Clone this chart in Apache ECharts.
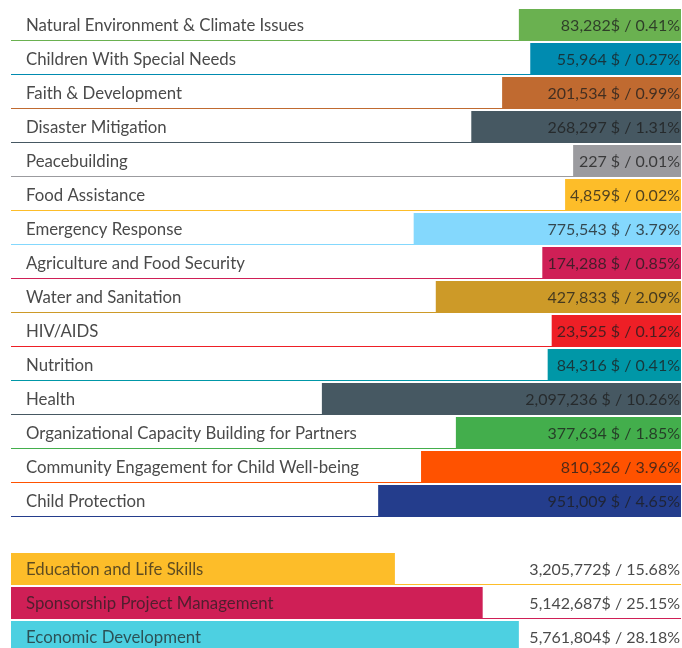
<!DOCTYPE html>
<html><head><meta charset="utf-8">
<style>html,body{margin:0;padding:0;background:#fff;overflow:hidden}#c{width:682px;height:680px}</style>
<script src="https://cdn.jsdelivr.net/npm/echarts@6/dist/echarts.min.js"></script>
</head><body><div id="c"></div>
<script>
const topCategories = [
  'Natural Environment & Climate Issues', 'Children With Special Needs', 'Faith & Development',
  'Disaster Mitigation', 'Peacebuilding', 'Food Assistance', 'Emergency Response',
  'Agriculture and Food Security', 'Water and Sanitation', 'HIV/AIDS', 'Nutrition', 'Health',
  'Organizational Capacity Building for Partners', 'Community Engagement for Child Well-being',
  'Child Protection'
];
const topValueLabels = [
  '83,282$ / 0.41%', '55,964 $ / 0.27%', '201,534 $ / 0.99%', '268,297 $ / 1.31%', '227 $ / 0.01%',
  '4,859$ / 0.02%', '775,543 $ / 3.79%', '174,288 $ / 0.85%', '427,833 $ / 2.09%', '23,525 $ / 0.12%',
  '84,316 $ / 0.41%', '2,097,236 $ / 10.26%', '377,634 $ / 1.85%', '810,326 / 3.96%', '951,009 $ / 4.65%'
];
// drawn bar lengths (share of the row width, %)
const topBarLengths = [24.2, 22.5, 26.7, 31.3, 16.1, 17.3, 39.9, 20.7, 36.6, 19.3, 19.9, 53.6, 33.6, 38.8, 45.2];

const bottomCategories = ['Education and Life Skills', 'Sponsorship Project Management', 'Economic Development'];
const bottomValueLabels = ['3,205,772$ / 15.68%', '5,142,687$ / 25.15%', '5,761,804$ / 28.18%'];
const bottomBarLengths = [57.3, 70.4, 75.8];

const topColors = ['#6ab150', '#008bb0', '#c06a30', '#465862', '#9b9b9f', '#fdbd29', '#84d8fd',
  '#cf1f56', '#cd9a28', '#ee1f26', '#0097a7', '#465862', '#43ae4c', '#ff5200', '#243d8c'];
const bottomColors = ['#fdbd29', '#cf1f56', '#4dd0e1'];

const FONT = 'Lato';
const LABEL_FS = 16.8;
const VALUE_FS = 16;

function makeRender(colors, cats, valueLabels, isTop) {
  return function (params, api) {
    const i = api.value(1);
    const len = api.value(0);
    const cs = params.coordSys;
    const c0 = api.coord([0, i]);
    const c1 = api.coord([len, i]);
    const slot = api.size([0, 1])[1];
    const line = Math.round(c0[1] + slot / 2 - 1);
    const barTop = line - 31;
    const x0 = Math.min(c0[0], c1[0]);
    const x1 = Math.max(c0[0], c1[0]);
    const color = colors[i];
    const midY = barTop + 17;
    return {
      type: 'group',
      children: [
        { type: 'rect', shape: { x: cs.x, y: line, width: cs.width, height: 1 }, style: { fill: color } },
        { type: 'rect', shape: { x: x0, y: barTop, width: x1 - x0, height: 31 }, style: { fill: color } },
        { type: 'text', style: { text: cats[i], x: 26, y: midY, align: 'left', verticalAlign: 'middle',
            fill: isTop ? '#4a4a4a' : 'rgba(30,30,30,0.72)', fontSize: LABEL_FS, fontFamily: FONT, fontWeight: 400 } },
        { type: 'text', style: { text: valueLabels[i], x: 680, y: midY, align: 'right', verticalAlign: 'middle',
            fill: isTop ? 'rgba(30,30,30,0.78)' : '#4a4a4a', fontSize: VALUE_FS, fontFamily: FONT, fontWeight: 400 } }
      ]
    };
  };
}

const chart = echarts.init(document.getElementById('c'), null, { renderer: 'canvas' });
chart.setOption({
  animation: false,
  backgroundColor: '#ffffff',
  grid: [
    { left: 11, right: 1, top: 7, height: 34 * 15 },
    { left: 11, right: 1, top: 7 + 34 * 16, height: 34 * 3 }
  ],
  xAxis: [
    { gridIndex: 0, type: 'value', min: 0, max: 100, inverse: true, show: false },
    { gridIndex: 1, type: 'value', min: 0, max: 100, show: false }
  ],
  yAxis: [
    { gridIndex: 0, type: 'category', data: topCategories, inverse: true, show: false },
    { gridIndex: 1, type: 'category', data: bottomCategories, inverse: true, show: false }
  ],
  series: [
    { type: 'custom', xAxisIndex: 0, yAxisIndex: 0,
      renderItem: makeRender(topColors, topCategories, topValueLabels, true),
      data: topBarLengths.map((v, i) => [v, i]) },
    { type: 'custom', xAxisIndex: 1, yAxisIndex: 1,
      renderItem: makeRender(bottomColors, bottomCategories, bottomValueLabels, false),
      data: bottomBarLengths.map((v, i) => [v, i]) }
  ]
});
</script></body></html>
